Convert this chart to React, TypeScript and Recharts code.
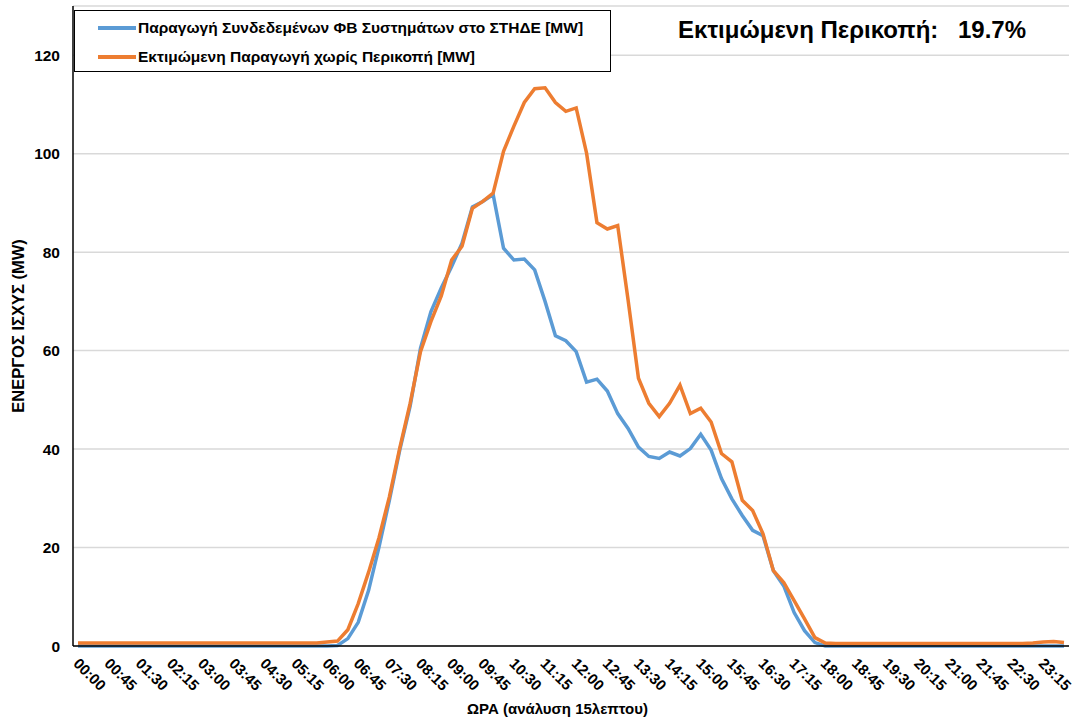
import React from 'react';
import { LineChart, Line, XAxis, YAxis, CartesianGrid, Legend, Label } from 'recharts';

// 15-minute time slots 00:00 ... 23:45
const TIMES: string[] = [];
for (let h = 0; h < 24; h++) {
  for (let m = 0; m < 60; m += 15) {
    TIMES.push(`${String(h).padStart(2, '0')}:${String(m).padStart(2, '0')}`);
  }
}

// Παραγωγή Συνδεδεμένων ΦΒ Συστημάτων στο ΣΤΗΔΕ [MW]
const PV_CONNECTED = [
  0, 0, 0, 0, 0, 0, 0, 0, 0, 0, 0, 0,
  0, 0, 0, 0, 0, 0, 0, 0, 0, 0, 0, 0,
  0, 0.1, 1.5, 4.8, 11.3, 20.1, 29.6, 39.8, 48.7, 60.5, 67.9, 72.7,
  77.1, 81.8, 89.2, 90.3, 91.7, 80.8, 78.4, 78.6, 76.4, 70.0, 63.0, 62.0,
  59.8, 53.6, 54.2, 51.8, 47.2, 44.2, 40.4, 38.5, 38.1, 39.4, 38.6, 40.1,
  43.0, 39.8, 34.0, 29.9, 26.5, 23.5, 22.4, 15.3, 12.2, 6.8, 3.1, 0.7,
  0, 0, 0, 0, 0, 0, 0, 0, 0, 0, 0, 0,
  0, 0, 0, 0, 0, 0, 0, 0, 0, 0, 0, 0,
];

// Εκτιμώμενη Παραγωγή χωρίς Περικοπή [MW]
const PV_NO_CURTAILMENT = [
  0.6, 0.6, 0.6, 0.6, 0.6, 0.6, 0.6, 0.6, 0.6, 0.6, 0.6, 0.6,
  0.6, 0.6, 0.6, 0.6, 0.6, 0.6, 0.6, 0.6, 0.6, 0.6, 0.6, 0.6,
  0.8, 1.0, 3.3, 8.6, 15.0, 22.0, 30.3, 40.2, 49.3, 59.8, 65.9, 71.1,
  78.4, 81.2, 88.9, 90.3, 92.0, 100.5, 105.6, 110.4, 113.2, 113.4, 110.4, 108.6,
  109.3, 100.1, 86.0, 84.7, 85.4, 70.3, 54.4, 49.3, 46.6, 49.3, 53.0, 47.2,
  48.3, 45.5, 39.1, 37.4, 29.6, 27.5, 22.8, 15.3, 12.9, 9.2, 5.5, 1.7,
  0.6, 0.5, 0.5, 0.5, 0.5, 0.5, 0.5, 0.5, 0.5, 0.5, 0.5, 0.5,
  0.5, 0.5, 0.5, 0.5, 0.5, 0.5, 0.5, 0.5, 0.6, 0.8, 0.9, 0.7,
];

const Y_TICKS = [0, 20, 40, 60, 80, 100, 120];
const Y_DOMAIN = [0, 130];
const SERIES_NAMES = [
  'Παραγωγή Συνδεδεμένων ΦΒ Συστημάτων στο ΣΤΗΔΕ [MW]',
  'Εκτιμώμενη Παραγωγή χωρίς Περικοπή [MW]',
];
const SERIES_COLORS = ['#5B9BD5', '#ED7D31'];
const Y_TITLE = 'ΕΝΕΡΓΟΣ ΙΣΧΥΣ (MW)';
const X_TITLE = 'ΩΡΑ (ανάλυση 15λεπτου)';
const CURTAILMENT_LABEL = 'Εκτιμώμενη Περικοπή:';
const CURTAILMENT_VALUE = '19.7%';

const data = TIMES.map((t, i) => ({
  time: t,
  connected: PV_CONNECTED[i],
  estimated: PV_NO_CURTAILMENT[i],
}));

const FONT = '"Liberation Sans", Arial, sans-serif';

const XTick = (props: any) => {
  const { x, y, payload } = props;
  const ax = x + 2;
  const ay = y + 3;
  return (
    <text
      x={ax}
      y={ay}
      dy="0.71em"
      transform={`rotate(45 ${ax} ${ay})`}
      textAnchor="start"
      fontFamily={FONT}
      fontWeight="bold"
      fontSize={15}
      fill="#000"
    >
      {payload.value}
    </text>
  );
};

const LegendBox = () => (
  <div
    style={{
      width: 537,
      height: 62,
      border: '1px solid #000',
      background: '#fff',
      boxSizing: 'border-box',
      position: 'relative',
      fontFamily: FONT,
      fontWeight: 'bold',
      fontSize: 15.5,
      color: '#000',
    }}
  >
    {SERIES_NAMES.map((name, i) => (
      <div
        key={name}
        style={{
          position: 'absolute',
          left: 23,
          top: i === 0 ? 7 : 36,
          height: 20,
          display: 'flex',
          alignItems: 'center',
          whiteSpace: 'nowrap',
        }}
      >
        <span
          style={{
            display: 'inline-block',
            width: 38,
            height: 4,
            background: SERIES_COLORS[i],
            marginRight: 2,
          }}
        />
        <span>{name}</span>
      </div>
    ))}
  </div>
);

export default function App() {
  return (
    <div
      style={{
        position: 'absolute',
        left: 0,
        top: 0,
        width: 1083,
        height: 717,
        background: '#fff',
      }}
    >
      <LineChart
        width={1083}
        height={717}
        data={data}
        margin={{ top: 6, right: 14, bottom: 0, left: 0 }}
      >
        <CartesianGrid vertical={false} stroke="#d9d9d9" strokeWidth={1.5} />
        <XAxis
          dataKey="time"
          interval={2}
          padding={{ left: 5, right: 5 }}
          tickLine={false}
          axisLine={{ stroke: '#000', strokeWidth: 1.5 }}
          tick={<XTick />}
          height={71}
        >
          <Label
            content={() => (
              <text
                x={467}
                y={714}
                textAnchor="start"
                fontFamily={FONT}
                fontWeight="bold"
                fontSize={15}
                fill="#000"
              >
                {X_TITLE}
              </text>
            )}
          />
        </XAxis>
        <XAxis
          xAxisId="top"
          dataKey="time"
          orientation="top"
          height={0}
          tick={false}
          tickLine={false}
          padding={{ left: 5, right: 5 }}
          axisLine={{ stroke: '#595959', strokeWidth: 1.5 }}
        />
        <YAxis
          domain={Y_DOMAIN}
          ticks={Y_TICKS}
          width={73}
          tickLine={false}
          tickMargin={7}
          axisLine={{ stroke: '#000', strokeWidth: 1.5 }}
          tick={{ fontFamily: FONT, fontWeight: 'bold', fontSize: 15.5, fill: '#000' }}
        >
          <Label
            content={() => (
              <text
                x={24}
                y={326}
                transform="rotate(-90 24 326)"
                textAnchor="middle"
                fontFamily={FONT}
                fontWeight="bold"
                fontSize={16.5}
                fill="#000"
              >
                {Y_TITLE}
              </text>
            )}
          />
        </YAxis>
        <YAxis
          yAxisId="right"
          orientation="right"
          domain={Y_DOMAIN}
          width={0}
          tick={false}
          tickLine={false}
          axisLine={{ stroke: '#595959', strokeWidth: 1.5 }}
        />
        <Legend
          layout="vertical"
          align="center"
          verticalAlign="middle"
          wrapperStyle={{ left: 74, top: 10, width: 537, height: 62 }}
          content={() => <LegendBox />}
        />
        <Line
          type="linear"
          dataKey="connected"
          name={SERIES_NAMES[0]}
          stroke={SERIES_COLORS[0]}
          strokeWidth={3.5}
          dot={false}
          activeDot={false}
          isAnimationActive={false}
        />
        <Line
          type="linear"
          dataKey="estimated"
          name={SERIES_NAMES[1]}
          stroke={SERIES_COLORS[1]}
          strokeWidth={3.5}
          dot={false}
          activeDot={false}
          isAnimationActive={false}
        />
      </LineChart>
      <div
        style={{
          position: 'absolute',
          left: 678,
          top: 16,
          fontFamily: FONT,
          fontWeight: 'bold',
          fontSize: 24,
          color: '#000',
          whiteSpace: 'nowrap',
        }}
      >
        {CURTAILMENT_LABEL}
      </div>
      <div
        style={{
          position: 'absolute',
          left: 958,
          top: 16,
          fontFamily: FONT,
          fontWeight: 'bold',
          fontSize: 24,
          color: '#000',
          whiteSpace: 'nowrap',
        }}
      >
        {CURTAILMENT_VALUE}
      </div>
    </div>
  );
}
